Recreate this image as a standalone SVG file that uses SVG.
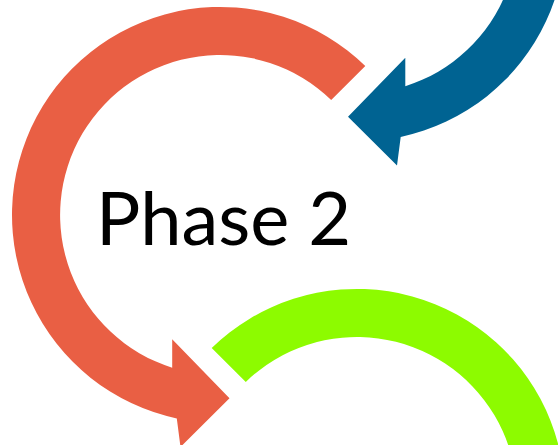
<svg xmlns="http://www.w3.org/2000/svg" xmlns:xlink="http://www.w3.org/1999/xlink" width="558" height="445" viewBox="0 0 558 445">
  <style>
    .orange { fill: #E95F44; }
    .blue { fill: #006392; }
    .green { fill: #8DFB00; }
    .label { font-family: Lato, "Open Sans", "Liberation Sans", sans-serif; font-size: 74px; fill: #000000; }
  </style>
  <defs>
    <path id="circArrow" d="M 145.3 -148.9 A 208 208 0 1 0 -43.2 203.4 L -39.5 232 L 9.5 183.3 L -47.8 124.3 L -47.8 152.7 A 160 160 0 1 1 111.2 -115.1 Z"/>
  </defs>
  <rect width="558" height="445" fill="#FFFFFF"/>
  <g id="arrow-blue">
    <use xlink:href="#circArrow" href="#circArrow" class="blue" transform="translate(357.5,-66.5) scale(-1,1)"/>
  </g>
  <g id="arrow-green">
    <use xlink:href="#circArrow" href="#circArrow" class="green" transform="translate(357,497) scale(-1,1)"/>
  </g>
  <g id="phase2">
    <use xlink:href="#circArrow" href="#circArrow" class="orange" transform="translate(220,215)"/>
    <text class="label" x="96" y="245">Phase 2</text>
  </g>
</svg>
